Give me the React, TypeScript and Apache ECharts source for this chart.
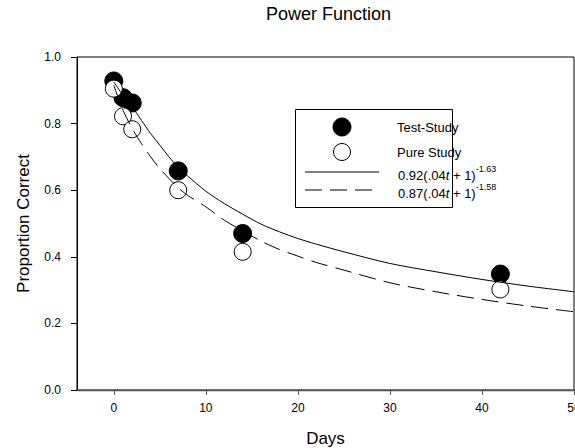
import React, { useEffect, useRef } from "react";
import * as echarts from "echarts";

const titleText = "Power Function";
const xName = "Days";
const yName = "Proportion Correct";
const xTicks = [0, 10, 20, 30, 40, 50];

const studyDays = [0, 1, 2, 7, 14, 42];
const testStudy = [0.928, 0.878, 0.862, 0.658, 0.47, 0.348];
const pureStudy = [0.905, 0.822, 0.783, 0.6, 0.415, 0.302];

const fitDays = [0, 1, 2, 3, 4, 5, 6, 7, 8, 10, 12, 14, 16, 18, 20, 22, 25, 30, 35, 40, 45, 50];
const fitTest = [0.925, 0.885, 0.85, 0.81, 0.77, 0.735, 0.7, 0.668, 0.643, 0.597, 0.56, 0.528, 0.498, 0.475, 0.455, 0.438, 0.415, 0.38, 0.355, 0.332, 0.312, 0.295];
const fitPure = [0.915, 0.84, 0.785, 0.74, 0.7, 0.665, 0.635, 0.607, 0.585, 0.55, 0.51, 0.478, 0.447, 0.422, 0.402, 0.383, 0.36, 0.322, 0.295, 0.272, 0.252, 0.235];

const legendNames = ["Test-Study", "Pure Study"];
const eqTest = { a: "0.92", b: ".04", c: "1.63" };
const eqPure = { a: "0.87", b: ".04", c: "1.58" };

const FONT = "Liberation Sans, Arial, sans-serif";

function eqRich(e: { a: string; b: string; c: string }) {
  return `{m|${e.a}(${e.b}}{i|t}{m| + 1)}{s|-${e.c}}`;
}

export default function App() {
  const ref = useRef<HTMLDivElement>(null);
  useEffect(() => {
    if (!ref.current) return;
    const chart = echarts.init(ref.current, null, { renderer: "svg" });
    const rich = {
      m: { fontSize: 13, fontFamily: FONT, color: "#000", verticalAlign: "bottom", lineHeight: 15 },
      i: { fontSize: 13, fontFamily: FONT, color: "#000", fontStyle: "italic", verticalAlign: "bottom", lineHeight: 15 },
      s: { fontSize: 9, fontFamily: FONT, color: "#000", verticalAlign: "bottom", lineHeight: 10, padding: [0, 0, 9, 0] },
    };
    chart.setOption({
      animation: false,
      backgroundColor: "#fff",
      title: {
        text: titleText,
        left: 266,
        top: 5,
        padding: 0,
        textStyle: { fontSize: 18, fontWeight: "normal", fontFamily: FONT, color: "#000" },
      },
      grid: {
        left: 77,
        right: 1,
        top: 57,
        bottom: 58,
        show: true,
        borderColor: "#000",
        borderWidth: 1,
        containLabel: false,
        outerBoundsMode: "none",
      },
      xAxis: {
        type: "value",
        min: -4,
        max: 50,
        name: xName,
        nameLocation: "middle",
        nameGap: 40,
        nameTextStyle: { fontSize: 17, fontFamily: FONT, color: "#000" },
        axisLine: { show: true, onZero: false, lineStyle: { color: "#555", width: 1.3 } },
        axisTick: { show: true, length: 5, customValues: xTicks, lineStyle: { color: "#555" } },
        axisLabel: { customValues: xTicks, margin: 12, fontSize: 12, fontFamily: FONT, color: "#000", hideOverlap: false },
        splitLine: { show: false },
      },
      yAxis: {
        type: "value",
        min: 0,
        max: 1,
        interval: 0.2,
        name: yName,
        nameLocation: "middle",
        nameGap: 45,
        nameTextStyle: { fontSize: 17, fontFamily: FONT, color: "#000" },
        axisLine: { show: true, onZero: false, lineStyle: { color: "#000", width: 1 } },
        axisTick: { show: true, length: 6, lineStyle: { color: "#000" } },
        axisLabel: { margin: 16, fontSize: 12, fontFamily: FONT, color: "#000", formatter: (v: number) => v.toFixed(1) },
        splitLine: { show: false },
      },
      series: [
        {
          name: legendNames[0],
          type: "scatter",
          symbol: "circle",
          symbolSize: 18,
          itemStyle: { color: "#000", borderColor: "#000", borderWidth: 1, opacity: 1 },
          data: studyDays.map((d, i) => [d, testStudy[i]]),
          z: 2,
        },
        {
          name: legendNames[1],
          type: "scatter",
          symbol: "circle",
          symbolSize: 17,
          itemStyle: { color: "#fff", borderColor: "#000", borderWidth: 1, opacity: 1 },
          data: studyDays.map((d, i) => [d, pureStudy[i]]),
          z: 3,
        },
        {
          name: "fitTest",
          type: "line",
          showSymbol: false,
          symbol: "none",
          smooth: 0.3,
          lineStyle: { color: "#000", width: 1 },
          data: fitDays.map((d, i) => [d, fitTest[i]]),
          z: 4,
        },
        {
          name: "fitPure",
          type: "line",
          showSymbol: false,
          symbol: "none",
          smooth: 0.3,
          lineStyle: { color: "#000", width: 1, type: [17, 8] },
          data: fitDays.map((d, i) => [d, fitPure[i]]),
          z: 4,
        },
      ],
      graphic: [
        {
          type: "group",
          z: 100,
          children: [
            { type: "rect", shape: { x: 295.5, y: 109.5, width: 157, height: 98 }, style: { fill: "#fff", stroke: "#000", lineWidth: 1 } },
            { type: "circle", shape: { cx: 342, cy: 127, r: 9 }, style: { fill: "#000", stroke: "#000", lineWidth: 1 } },
            { type: "circle", shape: { cx: 342, cy: 152, r: 8.5 }, style: { fill: "#fff", stroke: "#000", lineWidth: 1 } },
            { type: "line", shape: { x1: 305, y1: 172, x2: 379, y2: 172 }, style: { stroke: "#000", lineWidth: 1 } },
            { type: "line", shape: { x1: 305, y1: 190, x2: 379, y2: 190 }, style: { stroke: "#000", lineWidth: 1, lineDash: [17, 8] } },
            { type: "text", x: 397, y: 127, style: { text: legendNames[0], fontSize: 13, fontFamily: FONT, fill: "#000", verticalAlign: "middle" } },
            { type: "text", x: 397, y: 152, style: { text: legendNames[1], fontSize: 13, fontFamily: FONT, fill: "#000", verticalAlign: "middle" } },
            { type: "text", x: 398, y: 182, style: { text: eqRich(eqTest), rich, verticalAlign: "bottom" } },
            { type: "text", x: 398, y: 200, style: { text: eqRich(eqPure), rich, verticalAlign: "bottom" } },
          ],
        },
      ],
    });
    return () => chart.dispose();
  }, []);
  return <div ref={ref} style={{ position: "absolute", left: 0, top: 0, width: 575, height: 448 }} />;
}
